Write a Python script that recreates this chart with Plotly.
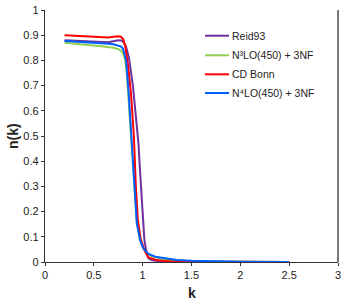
import plotly.graph_objects as go

# Data
reid_k = [0.2, 0.3, 0.4, 0.5, 0.6, 0.65, 0.7, 0.75, 0.78, 0.8, 0.83, 0.86, 0.9, 0.93, 0.957, 0.97, 0.985, 1.0, 1.018, 1.04, 1.06, 1.09, 1.13, 1.2, 1.3, 1.5, 2.0, 2.5]
reid_n = [0.880, 0.878, 0.876, 0.875, 0.873, 0.872, 0.876, 0.880, 0.879, 0.874, 0.855, 0.81, 0.70, 0.59, 0.47, 0.38, 0.29, 0.16, 0.087, 0.035, 0.015, 0.008, 0.005, 0.003, 0.001, 0.0005, 0.0, 0.0]

n3lo_k = [0.2, 0.3, 0.4, 0.5, 0.6, 0.7, 0.75, 0.78, 0.8, 0.82, 0.84, 0.86, 0.88, 0.91, 0.94, 0.97, 1.0, 1.03, 1.06, 1.1, 1.15, 1.2, 1.3, 1.5, 2.0, 2.5]
n3lo_n = [0.870, 0.867, 0.863, 0.859, 0.855, 0.850, 0.845, 0.838, 0.828, 0.805, 0.74, 0.62, 0.50, 0.31, 0.16, 0.09, 0.058, 0.04, 0.03, 0.022, 0.016, 0.012, 0.007, 0.003, 0.0005, 0.0]

cdbonn_k = [0.2, 0.3, 0.4, 0.5, 0.6, 0.65, 0.7, 0.75, 0.78, 0.8, 0.82, 0.85, 0.88, 0.91, 0.93, 0.95, 0.98, 1.02, 1.06, 1.13, 1.2, 1.3, 1.5, 2.0, 2.5]
cdbonn_n = [0.900, 0.898, 0.896, 0.895, 0.893, 0.891, 0.894, 0.896, 0.893, 0.885, 0.86, 0.78, 0.67, 0.50, 0.30, 0.17, 0.09, 0.045, 0.018, 0.009, 0.005, 0.002, 0.001, 0.0, 0.0]

n4lo_k = [0.2, 0.3, 0.4, 0.5, 0.6, 0.65, 0.7, 0.75, 0.78, 0.8, 0.83, 0.855, 0.875, 0.89, 0.916, 0.94, 0.974, 1.0, 1.026, 1.06, 1.13, 1.2, 1.27, 1.35, 1.5, 1.8, 2.0, 2.5]
n4lo_n = [0.877, 0.875, 0.872, 0.870, 0.868, 0.866, 0.864, 0.860, 0.855, 0.845, 0.80, 0.68, 0.56, 0.48, 0.286, 0.153, 0.087, 0.06, 0.045, 0.032, 0.021, 0.016, 0.012, 0.008, 0.005, 0.002, 0.001, 0.0]

names = ["Reid93", "N³LO(450) + 3NF", "CD Bonn", "N⁴LO(450) + 3NF"]
colors = ["#7030A0", "#92D050", "#FF0000", "#0060FF"]
ks = [reid_k, n3lo_k, cdbonn_k, n4lo_k]
ns = [reid_n, n3lo_n, cdbonn_n, n4lo_n]

W, H = 354, 305
L, R, T, B = 45, 16, 10, 43
PW, PH = W - L - R, H - T - B

def px(xp):
    return (xp - L) / PW

def py(yp):
    return (H - B - yp) / PH

fig = go.Figure()
for name, k, n, c in zip(names, ks, ns, colors):
    fig.add_trace(go.Scatter(x=k, y=n, mode="lines", name=name,
                             line=dict(color=c, width=2), showlegend=False,
                             hoverinfo="skip"))

# Manual legend (line sample + label), placed like the reference
leg_y = [35.7, 55.3, 74.3, 93.0]
shapes = []
annotations = []
for name, c, yy in zip(names, colors, leg_y):
    shapes.append(dict(type="line", xref="paper", yref="paper",
                       x0=px(205), x1=px(229), y0=py(yy), y1=py(yy),
                       line=dict(color=c, width=2)))
    annotations.append(dict(xref="paper", yref="paper", x=px(230), y=py(yy),
                            xanchor="left", yanchor="middle", showarrow=False,
                            text=name, font=dict(size=10.5, color="#222222")))

# right border of the plot area
shapes.append(dict(type="line", xref="paper", yref="paper", x0=1, x1=1, y0=0, y1=1,
                   line=dict(color="#333333", width=1.3)))

# Axis titles
annotations.append(dict(xref="paper", yref="paper", x=px(13), y=0.5,
                        xanchor="center", yanchor="middle", showarrow=False,
                        textangle=-90, text="<b>n(k)</b>",
                        font=dict(size=14, color="#222222")))
annotations.append(dict(xref="paper", yref="paper", x=0.5, y=py(293),
                        xanchor="center", yanchor="middle", showarrow=False,
                        text="<b>k</b>", font=dict(size=14, color="#222222")))

axis_col = "#333333"
tickfont = dict(family="Liberation Sans, Arial, sans-serif", size=11, color="#222222")
fig.update_layout(
    width=W, height=H,
    margin=dict(l=L, r=R, t=T, b=B, autoexpand=False),
    paper_bgcolor="white", plot_bgcolor="white",
    font=dict(family="Liberation Sans, Arial, sans-serif", size=11, color="#222222"),
    showlegend=False,
    shapes=shapes,
    annotations=annotations,
    xaxis=dict(range=[0, 3], dtick=0.5, tick0=0, showgrid=False, zeroline=False,
               showline=True, linecolor=axis_col, linewidth=1.3, automargin=False,
               ticks="outside", ticklen=3, tickcolor=axis_col, tickwidth=1.3,
               tickfont=tickfont),
    yaxis=dict(range=[0, 1], dtick=0.1, tick0=0, showgrid=False, zeroline=False,
               showline=True, linecolor=axis_col, linewidth=1.3,
               automargin=False,
               ticks="outside", ticklen=3, tickcolor=axis_col, tickwidth=1.3,
               tickfont=tickfont),
    xaxis2=dict(range=[0, 3], dtick=0.5, tick0=0, overlaying="x", side="bottom",
                showgrid=False, zeroline=False, showline=False, showticklabels=False,
                automargin=False,
                ticks="inside", ticklen=3, tickcolor=axis_col, tickwidth=1.3),
    yaxis2=dict(range=[0, 1], dtick=0.1, tick0=0, overlaying="y", side="left",
                showgrid=False, zeroline=False, showline=False, showticklabels=False,
                automargin=False,
                ticks="inside", ticklen=3, tickcolor=axis_col, tickwidth=1.3),
)

fig.write_html("out.html", config={"displayModeBar": False},
               post_script="document.body.style.margin='0';document.body.style.padding='0';")
